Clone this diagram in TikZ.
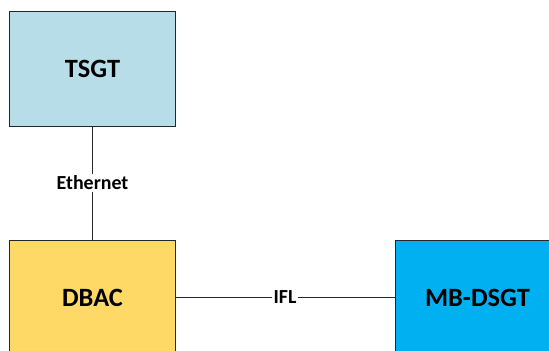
\documentclass[tikz,border=0pt]{standalone}
\usepackage{fontspec}
\setmainfont{Carlito}
\definecolor{tsgtfill}{HTML}{B7DEE8}
\definecolor{dbacfill}{HTML}{FFD966}
\definecolor{mbfill}{HTML}{00B0F0}
\definecolor{edge}{HTML}{262626}
\begin{document}
\begin{tikzpicture}[x=1bp,y=-1bp,
  box/.style={draw=edge,line width=1bp,minimum width=165bp,minimum height=115bp,inner sep=0pt,font=\bfseries\fontsize{26.5}{30}\selectfont},
  lbl/.style={fill=white,inner sep=1.5bp,font=\bfseries\fontsize{20}{24}\selectfont},
  conn/.style={draw=edge,line width=1bp}]
\useasboundingbox (0,0) rectangle (549,350);
\clip (0,0) rectangle (549,350);
\node[box,fill=tsgtfill] (tsgt) at (92.5,68.5) {TSGT};
\node[box,fill=dbacfill] (dbac) at (92.5,297.5) {DBAC};
\node[box,fill=mbfill] (mb) at (477.5,297.5) {MB-DSGT};
\draw[conn] (tsgt.south) -- node[lbl] (eth) {Ethernet} (dbac.north);
\draw[conn] (dbac.east) -- node[lbl,pos=0.5] (ifl) {IFL} (mb.west);
\end{tikzpicture}
\end{document}
